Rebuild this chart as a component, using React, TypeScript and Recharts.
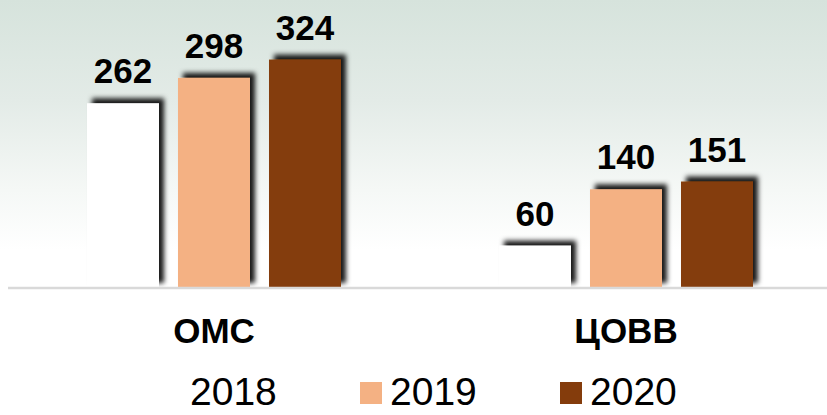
import React from "react";
import { Bar, BarChart, LabelList, Legend, XAxis, YAxis } from "recharts";

// data
const categories = ["ОМС", "ЦОВВ"];
const years = ["2018", "2019", "2020"];
const values2018 = [262, 60];
const values2019 = [298, 140];
const values2020 = [324, 151];
const colors = ["#ffffff", "#f4b183", "#843c0c"];

const chartData = categories.map((name, i) => ({
  name,
  "2018": values2018[i],
  "2019": values2019[i],
  "2020": values2020[i],
}));

const FONT = '"Liberation Sans", Arial, sans-serif';

const ShadowBar = (props: any) => {
  const { x, y, width, height, fill } = props;
  if (!height || height <= 0) return null;
  return (
    <rect
      x={x}
      y={y}
      width={width}
      height={height}
      fill={fill}
      filter="url(#barShadow)"
    />
  );
};

const renderValue = (props: any) => {
  const { x, y, width, value } = props;
  return (
    <text
      x={x + width / 2}
      y={y - 20}
      textAnchor="middle"
      fontFamily={FONT}
      fontWeight="bold"
      fontSize={35}
      fill="#000"
    >
      {value}
    </text>
  );
};

const renderTick = ({ x, y, payload }: any) => (
  <text
    x={x}
    y={y}
    dy={55}
    textAnchor="middle"
    fontFamily={FONT}
    fontWeight="bold"
    fontSize={35}
    fill="#000"
  >
    {payload.value}
  </text>
);

const renderLegend = ({ payload }: any) => (
  <div style={{ position: "relative", width: 832, height: 40 }}>
    {(payload || []).map((entry: any, i: number) => (
      <React.Fragment key={entry.value}>
        <div
          style={{
            position: "absolute",
            left: 160 + i * 200,
            top: 13,
            width: 22,
            height: 22,
            background: entry.color,
          }}
        />
        <span
          style={{
            position: "absolute",
            left: 190 + i * 200,
            top: 8,
            fontFamily: FONT,
            fontSize: 39,
            lineHeight: "30px",
            color: "#000",
            whiteSpace: "nowrap",
          }}
        >
          {entry.value}
        </span>
      </React.Fragment>
    ))}
  </div>
);

export default function App() {
  return (
    <div
      style={{
        position: "absolute",
        left: 0,
        top: 0,
        width: 827,
        height: 415,
        overflow: "hidden",
        background:
          "linear-gradient(180deg, #d6e3dc 0px, #e3ebe7 100px, #f5f8f6 190px, #ffffff 250px, #ffffff 415px)",
      }}
    >
      <BarChart
        width={832}
        height={415}
        data={chartData}
        margin={{ top: 6, right: 0, bottom: 0, left: 8 }}
        barSize={72}
        barGap={19}
        barCategoryGap={79}
      >
        <defs>
          <filter id="barShadow" x="-50%" y="-50%" width="200%" height="200%">
            <feDropShadow
              dx={5}
              dy={-5}
              stdDeviation={2.5}
              floodColor="#000"
              floodOpacity={0.9}
            />
          </filter>
        </defs>
        <XAxis
          dataKey="name"
          height={87}
          tickLine={false}
          tickSize={0}
          tickMargin={0}
          axisLine={{ stroke: "#d9d9d9", strokeWidth: 2.5 }}
          tick={renderTick}
          interval={0}
        />
        <YAxis hide domain={[0, 400]} />
        <Legend
          verticalAlign="bottom"
          content={renderLegend}
          wrapperStyle={{ left: 0, top: 369, width: 832, height: 40 }}
        />
        {years.map((yr, i) => (
          <Bar
            key={yr}
            dataKey={yr}
            name={yr}
            fill={colors[i]}
            shape={ShadowBar}
            isAnimationActive={false}
          >
            <LabelList dataKey={yr} content={renderValue} />
          </Bar>
        ))}
      </BarChart>
    </div>
  );
}
